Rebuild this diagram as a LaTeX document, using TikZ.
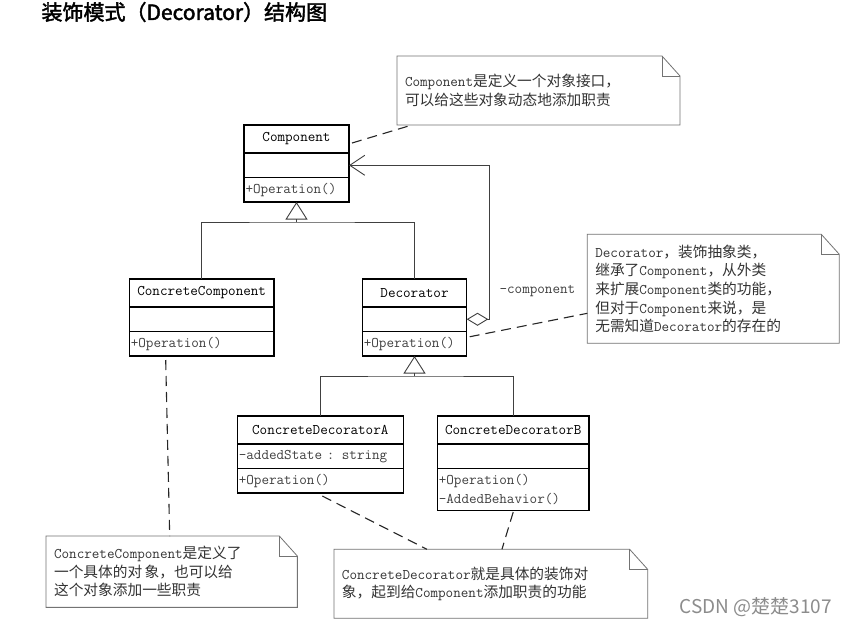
\documentclass[tikz,border=0pt]{standalone}
\usepackage{fontspec}
\newfontfamily\cnfont[Scale=1.0]{Noto Sans CJK SC}
\newfontfamily\titlefont[FakeBold=2]{Noto Sans CJK SC}
\newfontfamily\markfont{Noto Sans CJK SC}
\usetikzlibrary{arrows.meta,positioning,calc}
\newcommand{\zh}[1]{{\cnfont #1}}
\newcommand{\umlfont}{\ttfamily\fontsize{14.7}{15}\selectfont}
\newcommand{\notefont}{\ttfamily\fontsize{14.7}{18.6}\selectfont}
% outline of a note with its folded corner
\newcommand{\notebox}[1]{%
  \draw[noteline] (#1.north west) -- ([xshift=-18pt]#1.north east)
    -- ([yshift=-20pt]#1.north east) -- (#1.south east) -- (#1.south west) -- cycle;
  \draw[noteline] ([xshift=-18pt]#1.north east) |- ([yshift=-20pt]#1.north east);
}

\begin{document}
\begin{tikzpicture}[x=1pt,y=-1pt,
  cls/.style={draw,line width=1.2pt,outer sep=0pt,inner xsep=1.5pt,inner ysep=0pt,
              text width=#1,font=\umlfont},
  clsname/.style={cls=#1,align=center,minimum height=28pt},
  clspart/.style={cls=#1,align=left,minimum height=24.5pt,text=black!75},
  note/.style={outer sep=0pt,inner xsep=8pt,inner ysep=0pt,text width=#1,
               align=left,text=black!80,font=\notefont},
  noteline/.style={draw=black!55,line width=0.8pt},
  link/.style={dash pattern=on 10pt off 6pt,line width=1.1pt,draw=black!85},
  wire/.style={line width=0.9pt,draw=black!75},
  gen/.style={wire,-{Triangle[open,length=17.5pt,width=22pt]}},
  agg/.style={wire,{Diamond[open,length=21.6pt,width=13pt]}-{Straight Barb[length=15pt,width=20pt]}}
]
  \path[use as bounding box,fill=white] (0,0) rectangle (851,627);

  \node[anchor=west,font=\titlefont\fontsize{21}{24}\selectfont] (title) at (38,12)
    {装饰模式（Decorator）结构图};

  % classes
  \node[clsname=102pt] (compN) at (296.5,139) {Component};
  \node[clspart=102pt,below=0pt of compN] (compA) {};
  \node[clspart=102pt,below=0pt of compA] (compO) {+Operation()};

  \node[clsname=141.7pt] (ccompN) at (201.7,293) {ConcreteComponent};
  \node[clspart=141.7pt,below=0pt of ccompN] (ccompA) {};
  \node[clspart=141.7pt,below=0pt of ccompA] (ccompO) {+Operation()};

  \node[clsname=101.4pt] (decoN) at (414.5,293) {Decorator};
  \node[clspart=101.4pt,below=0pt of decoN] (decoA) {};
  \node[clspart=101.4pt,below=0pt of decoA] (decoO) {+Operation()};

  \node[clsname=163pt] (cdaN) at (320.3,430) {ConcreteDecoratorA};
  \node[clspart=163pt,below=0pt of cdaN] (cdaA) {-addedState : string};
  \node[clspart=163pt,below=0pt of cdaA] (cdaO) {+Operation()};

  \node[clsname=148.7pt] (cdbN) at (513.2,430) {ConcreteDecoratorB};
  \node[clspart=148.7pt,below=0pt of cdbN] (cdbA) {};
  \node[clspart=148.7pt,below=0pt of cdbA,minimum height=41.6pt,
        font=\ttfamily\fontsize{14.7}{19}\selectfont] (cdbO) {+Operation()\\-AddedBehavior()};

  % inheritance
  \coordinate (compbar) at ([yshift=-20pt]compO.south);
  \draw[gen] (compbar) -- (compO.south);
  \draw[wire] (ccompN.north) |- (compbar) -| (decoN.north);
  \coordinate (decobar) at ([yshift=-20pt]decoO.south);
  \draw[gen] (decobar) -- (decoO.south);
  \draw[wire] (cdaN.north) |- (decobar) -| (cdbN.north);

  % aggregation
  \draw[agg] (decoA.east) -- ++(23,0) |- (compA.east);
  \node[anchor=west,font=\umlfont,text=black!75] (role) at (496,291) {-component};

  % notes
  \node[note=267pt,minimum height=69pt] (tnote) at (538.5,90.5)
    {Component\zh{是定义一个对象接口，}\\\zh{可以给这些对象动态地添加职责}};
  \node[note=236pt,minimum height=109pt] (rnote) at (713.3,288.8)
    {Decorator\zh{，装饰抽象类，}\\
     \zh{继承了}Component\zh{，从外类}\\
     \zh{来扩展}Component\zh{类的功能，}\\
     \zh{但对于}Component\zh{来说，是}\\
     \zh{无需知道}Decorator\zh{的存在的}};
  \node[note=235.3pt,minimum height=71.3pt] (blnote) at (171.7,571.7)
    {ConcreteComponent\zh{是定义了}\\
     \zh{一个具体的对\,象，也可以给}\\
     \zh{这个对象添加一些职责}};
  \node[note=297.7pt,minimum height=69pt] (brnote) at (490.8,583.8)
    {ConcreteDecorator\zh{就是具体的装饰对}\\
     \zh{象，起到给}Component\zh{添加职责的功能}};
  \notebox{tnote}
  \notebox{rnote}
  \notebox{blnote}
  \notebox{brnote}

  \draw[link] ([xshift=3pt,yshift=-4pt]compN.east) -- ([xshift=15pt]tnote.south west);
  \draw[link] ([xshift=3pt,yshift=7pt]decoO.east) -- ([yshift=30pt]rnote.south west);
  \draw[link] ([xshift=-36pt,yshift=-4pt]ccompO.south) -- ([xshift=-2pt]blnote.north);
  \draw[link] ([xshift=2pt,yshift=-3pt]cdaO.south) -- ([xshift=93pt]brnote.north west);
  \draw[link] ([yshift=-2pt]cdbO.south) -- ([xshift=168pt]brnote.north west);

  \node[anchor=west,text=black!45,font=\markfont\fontsize{19}{22}\selectfont] (mark)
    at (676,607) {CSDN @楚楚3107};
\end{tikzpicture}
\end{document}
